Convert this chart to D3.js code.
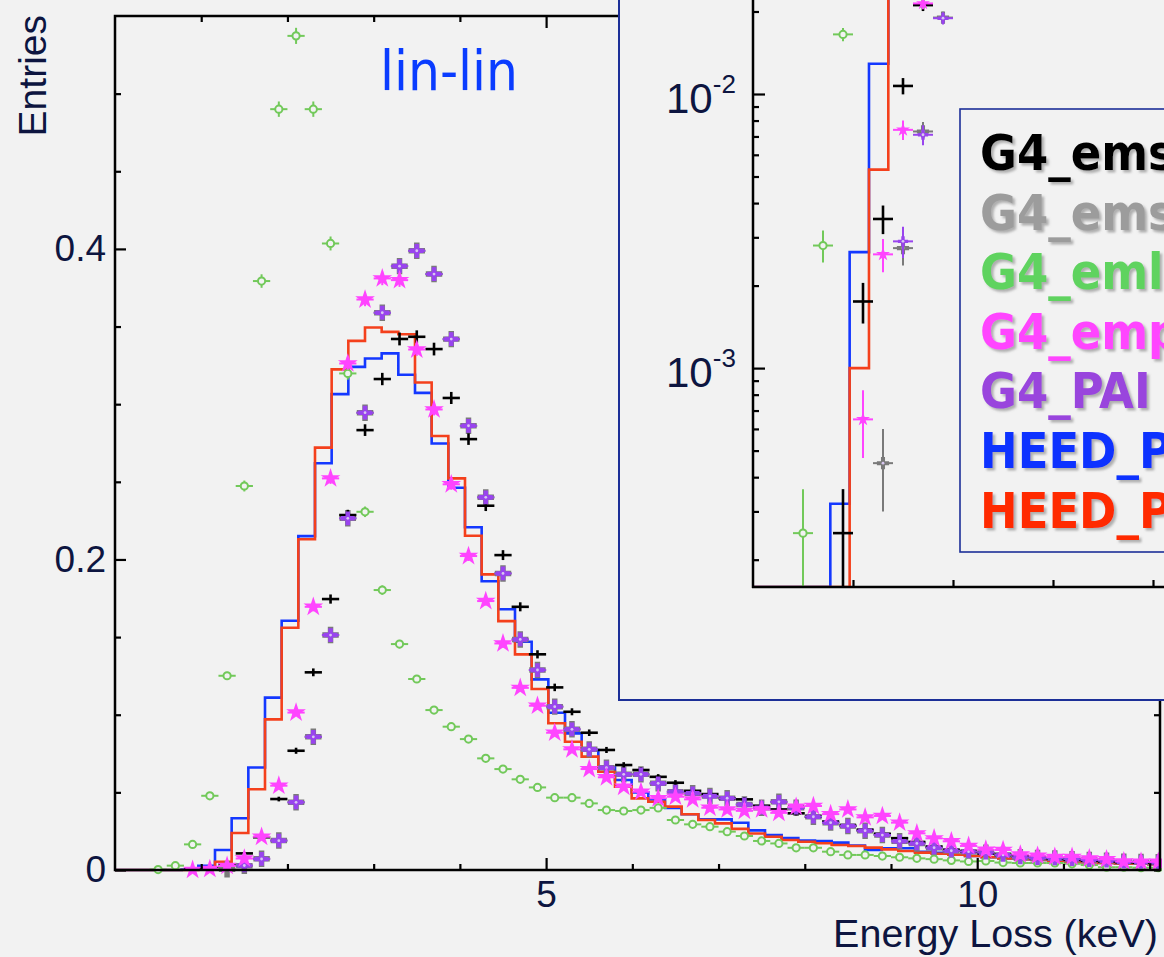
<!DOCTYPE html>
<html>
<head>
<meta charset="utf-8">
<script src="https://cdn.jsdelivr.net/npm/d3@7/dist/d3.min.js"></script>
<style>
body { margin: 0; background: #f2f2f2; }
svg { display: block; }
</style>
</head>
<body>
<div id="chart"></div>
<script>
// point series: 0.2 keV bins starting at 0, histograms: 0.1933 keV bins
var ptBinW = 0.2;
var histBinW = 0.1933;
var nEvents = 20000;

var emStandard = [0,0,0,0,0.00025,0.00175,0.0035,0.0107,0.0211,0.0457,
  0.0768,0.1273,0.1745,0.2286,0.2833,0.3162,0.342,0.3434,0.3355,0.304,
  0.2775,0.2346,0.2028,0.1695,0.1389,0.1176,0.1019,0.0884,0.0773,0.0676,
  0.0644,0.060,0.0562,0.051,0.0489,0.0462,0.0455,0.0414,0.039,0.0365,
  0.0343,0.0311,0.0285,0.0258,0.0232,0.0205,0.018,0.015,0.0129,0.0118,
  0.0107,0.0097,0.0086,0.0078,0.0072,0.0066,0.006,0.0055,0.005,0.0047,0.0045];
var emStandardOpt = [0,0,0,0,0,0,0.00045,0.00274,0.0073,0.019,
  0.0436,0.0858,0.1513,0.2265,0.2945,0.3589,0.3889,0.3988,0.3838,0.3419,
  0.2861,0.24,0.191,0.1485,0.1288,0.1052,0.0906,0.0777,0.0659,0.0616,
  0.0616,0.0558,0.0504,0.0494,0.0476,0.0462,0.0422,0.0401,0.0439,0.0401,
  0.0343,0.0305,0.0283,0.0253,0.0225,0.0185,0.0171,0.0144,0.0124,0.0118,
  0.0112,0.0097,0.0082,0.0077,0.0075,0.007,0.0064,0.006,0.0054,0.0052,0.005];
var emLivermore = [0,0,0.00025,0.0028,0.0165,0.0478,0.1251,0.2473,0.3793,0.49,
  0.5372,0.49,0.4035,0.3198,0.2307,0.1803,0.1455,0.123,0.103,0.0923,
  0.0843,0.0719,0.065,0.0584,0.0532,0.0466,0.0466,0.0429,0.0386,0.038,
  0.0386,0.04,0.0322,0.0294,0.0279,0.0247,0.0219,0.0187,0.0171,0.0143,
  0.0143,0.0118,0.0097,0.0097,0.009,0.0082,0.0075,0.007,0.0062,0.0055,
  0.0058,0.0048,0.0045,0.0045,0.0045,0.004,0.0032,0.0018,0.0018,0.0015,0.0015];
var emPenelope = [0,0,0,0,0.0001,0.00065,0.0026,0.0074,0.0214,0.0543,
  0.1014,0.1695,0.2522,0.3262,0.3674,0.381,0.3799,0.3352,0.2966,0.2484,
  0.2022,0.1732,0.1459,0.1173,0.1058,0.0884,0.0777,0.065,0.0597,0.0536,
  0.0504,0.0462,0.0472,0.0455,0.0401,0.039,0.0381,0.039,0.0368,0.0407,
  0.0412,0.036,0.039,0.0339,0.0348,0.0305,0.0236,0.0204,0.0185,0.0155,
  0.0131,0.0129,0.01,0.0092,0.0084,0.0084,0.0075,0.0069,0.0055,0.0053,0.0053];
var g4Pai = [0,0,0,0,0,0,0,0.0029,0.0071,0.0189,
  0.0436,0.0858,0.1513,0.2265,0.2945,0.3589,0.3889,0.3988,0.3838,0.3419,
  0.2861,0.24,0.191,0.1485,0.1288,0.1052,0.0906,0.0777,0.0659,0.0616,
  0.0616,0.0558,0.0504,0.0494,0.0476,0.0462,0.0422,0.0401,0.0439,0.0401,
  0.0343,0.0305,0.0283,0.0253,0.0225,0.0185,0.0171,0.0144,0.0124,0.0118,
  0.0112,0.0097,0.0082,0.0077,0.0075,0.007,0.0064,0.006,0.0054,0.0052,0.005];
var heedBlue = [0,0,0,0,0.00032,0.00265,0.0129,0.0333,0.066,0.111,
  0.1605,0.215,0.262,0.3065,0.324,0.3294,0.3327,0.319,0.3073,0.2747,
  0.2462,0.2207,0.186,0.1679,0.147,0.1228,0.1013,0.088,0.0773,0.066,
  0.058,0.05,0.0455,0.04,0.0359,0.0326,0.0326,0.0304,0.0255,0.0225,
  0.0205,0.019,0.0187,0.0176,0.0158,0.0129,0.014,0.014,0.0118,0.011,
  0.0098,0.009,0.0082,0.0075,0.007,0.0064,0.006,0.0055,0.005,0.0046,
  0.0042,0.004,0.0037];
var heedRed = [0,0,0,0,0,0.001,0.0053,0.0238,0.052,0.097,
  0.156,0.213,0.272,0.3224,0.3408,0.3494,0.3466,0.345,0.314,0.2795,
  0.2522,0.2153,0.1904,0.1603,0.1389,0.1166,0.0945,0.0826,0.073,0.0633,
  0.0537,0.0461,0.044,0.0408,0.0359,0.0322,0.030,0.0265,0.0235,0.0214,
  0.0193,0.0182,0.0172,0.0161,0.0155,0.0144,0.0133,0.0122,0.0112,0.0105,
  0.0098,0.009,0.0082,0.0075,0.007,0.0064,0.006,0.0055,0.005,0.0046,
  0.0042,0.004,0.0037];

var legendNames = ["G4_emstandard_opt0","G4_emstandard_opt4","G4_emlivermore",
  "G4_empenelope","G4_PAI","HEED_PAI","HEED_Photoabs"];
var legendColors = ["#000000","#9c9c9c","#5fd35f","#ff44ff","#9944dd","#0a33ff","#ff2a00"];

var navy = "#0d1540";
var W = 1164, H = 957;

var svg = d3.select("#chart").append("svg")
  .attr("width", W)
  .attr("height", H)
  .style("background", "#f2f2f2");

var defs = svg.append("defs");
defs.append("clipPath").attr("id", "mainClip")
  .append("rect").attr("x", 115).attr("y", 0).attr("width", 1047).attr("height", 880);
defs.append("clipPath").attr("id", "insetClip")
  .append("rect").attr("x", 753).attr("y", -60).attr("width", 420).attr("height", 647);
var shadow = defs.append("filter").attr("id", "shadow")
  .attr("x", "-5%").attr("y", "-5%").attr("width", "115%").attr("height", "130%");
shadow.append("feDropShadow").attr("dx", 2.5).attr("dy", 2.5)
  .attr("stdDeviation", 1.2).attr("flood-color", "#777").attr("flood-opacity", 0.55);

// ---------- main lin-lin plot ----------
var x = d3.scaleLinear().domain([0, 12.12]).range([115, 1160]);
var y = d3.scaleLinear().domain([0, 0.55]).range([870, 16]);

function errOf(v) { return Math.sqrt(v / nEvents); }

function stepPairs(vals) {
  var pts = [];
  vals.forEach(function(v, j) {
    pts.push([j * histBinW, v]);
    pts.push([(j + 1) * histBinW, v]);
  });
  return pts;
}

var mainG = svg.append("g").attr("clip-path", "url(#mainClip)");

[[heedBlue, "#1438ff"], [heedRed, "#f4401c"]].forEach(function(h) {
  mainG.append("path")
    .datum(stepPairs(h[0]))
    .attr("fill", "none")
    .attr("stroke", h[1])
    .attr("stroke-width", 2.6)
    .attr("d", d3.line().x(function(d) { return x(d[0]); }).y(function(d) { return y(d[1]); }));
});

var seriesDefs = [
  {vals: emStandardOpt, color: "#7a7a7a", marker: "cross", size: 150},
  {vals: emStandard, color: "#000000", marker: "none"},
  {vals: emLivermore, color: "#72c95a", marker: "open"},
  {vals: g4Pai, color: "#9944ee", marker: "cross", size: 105},
  {vals: emPenelope, color: "#ff44ff", marker: "star", size: 120}
];

function drawPoints(g, sx, sy, s, minV) {
  var data = s.vals.map(function(v, k) { return {x: (k + 0.5) * ptBinW, v: v}; })
    .filter(function(d) { return d.v > minV; });
  var grp = g.append("g");
  var sw = s.marker === "none" ? 2.6 : 2;
  grp.selectAll(".hb").data(data).enter().append("line")
    .attr("x1", function(d) { return sx(d.x - ptBinW / 2); })
    .attr("x2", function(d) { return sx(d.x + ptBinW / 2); })
    .attr("y1", function(d) { return sy(d.v); })
    .attr("y2", function(d) { return sy(d.v); })
    .attr("stroke", s.color).attr("stroke-width", sw);
  grp.selectAll(".vb").data(data).enter().append("line")
    .attr("x1", function(d) { return sx(d.x); })
    .attr("x2", function(d) { return sx(d.x); })
    .attr("y1", function(d) { return sy(Math.max(d.v - errOf(d.v), minV)); })
    .attr("y2", function(d) { return sy(d.v + errOf(d.v)); })
    .attr("stroke", s.color).attr("stroke-width", sw);
  if (s.marker === "open") {
    grp.selectAll("circle").data(data).enter().append("circle")
      .attr("cx", function(d) { return sx(d.x); })
      .attr("cy", function(d) { return sy(d.v); })
      .attr("r", 3.6)
      .attr("fill", "#f2f2f2").attr("stroke", s.color).attr("stroke-width", 2);
  } else if (s.marker === "cross" || s.marker === "star") {
    var sym = d3.symbol().type(s.marker === "star" ? d3.symbolStar : d3.symbolCross).size(s.size);
    grp.selectAll("path").data(data).enter().append("path")
      .attr("transform", function(d) { return "translate(" + sx(d.x) + "," + sy(d.v) + ")"; })
      .attr("d", sym)
      .attr("fill", s.color);
    if (s.marker === "cross") {
      grp.selectAll("circle").data(data).enter().append("circle")
        .attr("cx", function(d) { return sx(d.x); })
        .attr("cy", function(d) { return sy(d.v); })
        .attr("r", 1.4).attr("fill", "#d8c8f0");
    }
  }
}

seriesDefs.forEach(function(s) { drawPoints(mainG, x, y, s, 0); });

// frame and axes
svg.append("rect")
  .attr("x", 115).attr("y", 16).attr("width", 1045).attr("height", 854)
  .attr("fill", "none").attr("stroke", "#000").attr("stroke-width", 2.5);

var yMajor = [0, 0.2, 0.4];
var yMinor = [0.05, 0.1, 0.15, 0.25, 0.3, 0.35, 0.45, 0.5];
var xMajor = [5, 10];
var xMinor = [1, 2, 3, 4, 6, 7, 8, 9, 11, 12];

function styleAxis(g) {
  g.select(".domain").remove();
  g.selectAll(".tick line").attr("stroke", "#000").attr("stroke-width", 2.2);
  g.selectAll(".tick text")
    .attr("fill", navy)
    .style("font-family", "'Liberation Sans', Arial, sans-serif")
    .style("font-size", "37px");
}

svg.append("g").attr("transform", "translate(115,0)")
  .call(d3.axisLeft(y).tickValues(yMajor).tickSize(-11).tickPadding(9)
    .tickFormat(function(d) { return d === 0 ? "0" : d3.format(".1f")(d); }))
  .call(styleAxis);
svg.append("g").attr("transform", "translate(115,0)")
  .call(d3.axisLeft(y).tickValues(yMinor).tickSize(-6).tickFormat(""))
  .call(styleAxis);
svg.append("g").attr("transform", "translate(1160,0)")
  .call(d3.axisRight(y).tickValues(yMajor.concat(yMinor)).tickSize(-6).tickFormat(""))
  .call(styleAxis);
svg.append("g").attr("transform", "translate(0,870)")
  .call(d3.axisBottom(x).tickValues(xMajor).tickSize(-12).tickPadding(11))
  .call(styleAxis);
svg.append("g").attr("transform", "translate(0,870)")
  .call(d3.axisBottom(x).tickValues(xMinor).tickSize(-6).tickFormat(""))
  .call(styleAxis);
svg.append("g").attr("transform", "translate(0,16)")
  .call(d3.axisTop(x).tickValues(xMajor).tickSize(-12).tickFormat(""))
  .call(styleAxis);
svg.append("g").attr("transform", "translate(0,16)")
  .call(d3.axisTop(x).tickValues(xMinor).tickSize(-6).tickFormat(""))
  .call(styleAxis);

svg.append("text")
  .attr("transform", "translate(46,15) rotate(-90)")
  .attr("text-anchor", "end")
  .attr("fill", navy)
  .style("font-family", "'Liberation Sans', Arial, sans-serif")
  .style("font-size", "39px")
  .text("Entries");

svg.append("text")
  .attr("x", 1158).attr("y", 947)
  .attr("text-anchor", "end")
  .attr("fill", navy)
  .style("font-family", "'Liberation Sans', Arial, sans-serif")
  .style("font-size", "39.5px")
  .text("Energy Loss (keV)");

svg.append("text")
  .attr("x", 380).attr("y", 90)
  .attr("fill", "#0a3cff")
  .style("font-family", "'DejaVu Sans Condensed', 'DejaVu Sans', sans-serif")
  .style("font-stretch", "condensed")
  .style("font-size", "56px")
  .text("lin-lin");

// ---------- inset lin-log plot ----------
var inset = svg.append("g");
inset.append("rect")
  .attr("x", 619).attr("y", -40).attr("width", 620).attr("height", 740)
  .attr("fill", "#f2f2f2").attr("stroke", "#1c2f98").attr("stroke-width", 2);

var ix = d3.scaleLinear().domain([0, 4.11]).range([753, 1164]);
var iy = d3.scaleLog().domain([1.59e-4, 1e-2]).range([587, 94]);
var iMin = 1.59e-4;

var insetData = inset.append("g").attr("clip-path", "url(#insetClip)");
[[heedBlue, "#1438ff"], [heedRed, "#f4401c"]].forEach(function(h) {
  insetData.append("path")
    .datum(stepPairs(h[0]))
    .attr("fill", "none")
    .attr("stroke", h[1])
    .attr("stroke-width", 2.6)
    .attr("d", d3.line()
      .x(function(d) { return ix(d[0]); })
      .y(function(d) { return iy(Math.max(d[1], iMin)); }));
});
seriesDefs.forEach(function(s) {
  var s2 = Object.assign({}, s);
  if (s2.marker === "cross") s2.size = s.size * 0.55;
  if (s2.marker === "star") s2.size = s.size * 0.5;
  drawPoints(insetData, ix, iy, s2, iMin);
});

// inset axes
inset.append("line").attr("x1", 753).attr("x2", 753).attr("y1", -40).attr("y2", 588)
  .attr("stroke", "#000").attr("stroke-width", 2.5);
inset.append("line").attr("x1", 752).attr("x2", 1170).attr("y1", 587).attr("y2", 587)
  .attr("stroke", "#000").attr("stroke-width", 2.5);

var iyMajor = [1e-3, 1e-2];
var iyMinor = [2e-4,3e-4,4e-4,5e-4,6e-4,7e-4,8e-4,9e-4,
  2e-3,3e-3,4e-3,5e-3,6e-3,7e-3,8e-3,9e-3,2e-2,3e-2];
inset.append("g").attr("transform", "translate(753,0)")
  .call(d3.axisLeft(iy).tickValues(iyMajor).tickSize(-12).tickFormat(""))
  .call(styleAxis);
inset.append("g").attr("transform", "translate(753,0)")
  .call(d3.axisLeft(iy).tickValues(iyMinor).tickSize(-6).tickFormat(""))
  .call(styleAxis);
inset.append("g").attr("transform", "translate(0,587)")
  .call(d3.axisBottom(ix).tickValues([1, 2, 3, 4]).tickSize(-7).tickFormat(""))
  .call(styleAxis);

var expLabels = [["-2", 1e-2], ["-3", 1e-3]];
expLabels.forEach(function(e) {
  var t = inset.append("text")
    .attr("x", 666).attr("y", iy(e[1]) + 19)
    .attr("fill", navy)
    .style("font-family", "'Liberation Sans', Arial, sans-serif")
    .style("font-size", "42px")
    .text("10");
  t.append("tspan").attr("dy", -20).style("font-size", "26px").text(e[0]);
});

// legend
var legend = inset.append("g");
legend.append("rect")
  .attr("x", 960).attr("y", 109).attr("width", 260).attr("height", 443)
  .attr("fill", "#f2f2f2").attr("stroke", "#1c2f98").attr("stroke-width", 1.6);
legend.selectAll("text").data(legendNames).enter().append("text")
  .attr("x", 980)
  .attr("y", function(d, i) { return 170 + i * 59.6; })
  .attr("fill", function(d, i) { return legendColors[i]; })
  .attr("filter", "url(#shadow)")
  .style("font-family", "'DejaVu Sans Condensed', 'DejaVu Sans', sans-serif")
  .style("font-stretch", "condensed")
  .style("font-weight", "bold")
  .style("font-size", "50px")
  .text(function(d) { return d; });
</script>
</body>
</html>
